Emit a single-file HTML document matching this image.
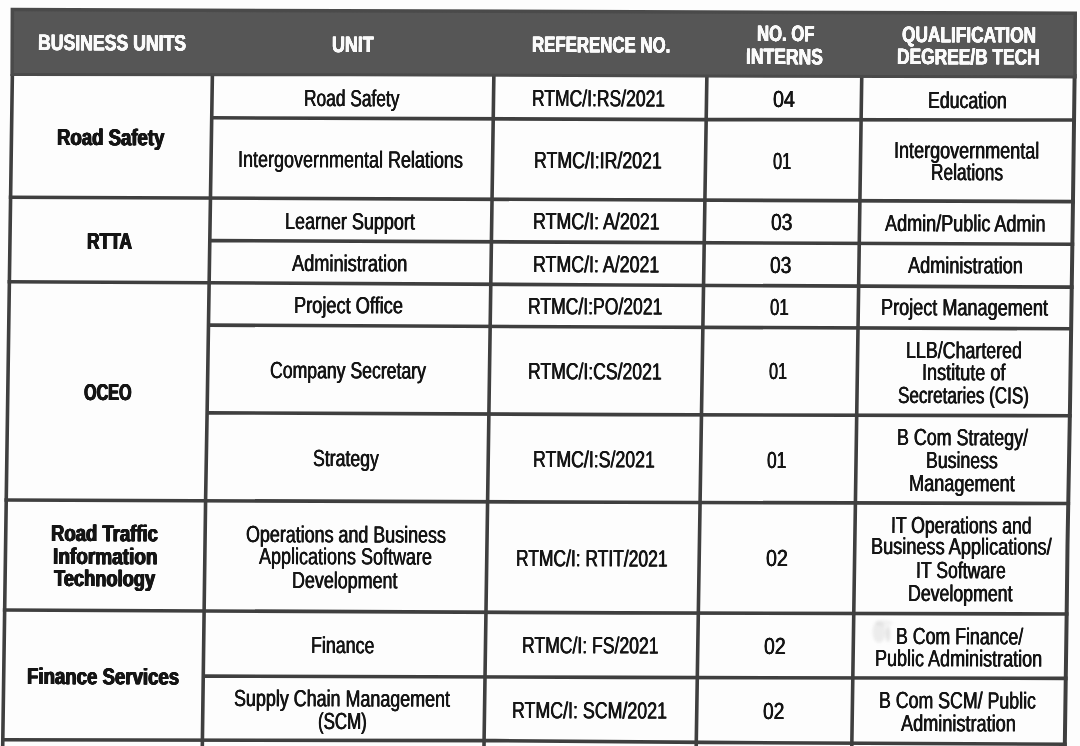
<!DOCTYPE html>
<html lang="en">
<head>
<meta charset="utf-8">
<title>Internship Table</title>
<style>
html,body{margin:0;padding:0;background:#fdfdfd;}
body{width:1080px;height:746px;overflow:hidden;position:relative;}
#page{position:absolute;left:0;top:0;width:1080px;height:746px;overflow:hidden;filter:blur(0.6px);}
svg{display:block;position:absolute;left:0;top:0;}
.t{position:absolute;display:block;white-space:nowrap;line-height:0;margin:0;padding:0;transform-origin:0 40px;font-family:"Liberation Sans",sans-serif;color:#151515;}
.t i{display:inline-block;width:0;height:40px;vertical-align:baseline;}
.b{font-weight:bold;}
.w{color:#fafafa;}
</style>
</head>
<body>
<div id="page">
<svg width="1080" height="746" viewBox="0 0 1080 746">
<rect width="1080" height="746" fill="#fdfdfd"/>
<g id="grid" stroke="#3f3f3f" stroke-width="3.60" stroke-linecap="butt" fill="none">
<polyline stroke-width="3.60" points="12.37,74.00 12.00,100.00 2.70,746.00 2.67,748.00"/>
<polyline stroke-width="3.60" points="212.40,74.00 207.20,407.00 205.60,500.00 203.40,665.00 202.30,748.00"/>
<polyline stroke-width="3.60" points="493.88,74.00 493.50,100.00 484.00,746.00 483.97,748.00"/>
<polyline stroke-width="3.60" points="706.91,74.00 706.50,100.00 696.20,746.00 696.17,748.00"/>
<polyline stroke-width="3.60" points="861.79,74.00 861.40,100.00 851.80,746.00 851.77,748.00"/>
<polyline stroke-width="4.00" points="1074.64,74.00 1074.30,100.00 1073.00,200.00 1070.00,407.00 1067.50,545.00 1066.70,612.00 1064.80,746.00 1064.77,748.00"/>
<polyline points="211.72,117.80 700.00,119.60 1075.87,120.00"/>
<polyline points="8.80,197.19 620.00,199.80 1074.84,201.62"/>
<polyline points="209.81,240.58 620.00,242.40 1074.22,244.22"/>
<polyline points="7.58,281.69 620.00,285.00 1073.62,287.12"/>
<polyline points="208.49,325.11 620.00,327.00 1073.00,328.81"/>
<polyline points="207.11,412.84 620.00,414.60 1071.71,415.80"/>
<polyline points="4.44,499.98 620.00,502.30 1070.12,503.50"/>
<polyline points="2.86,609.97 620.00,612.90 1068.52,614.00"/>
<polyline points="203.26,676.10 620.00,677.40 1067.60,678.39"/>
<polyline points="0.99,739.80 495.00,740.60 705.00,742.40 865.00,743.20 1066.69,744.20"/>
</g>
<polygon fill="#4a4a4a" points="10.60,7.80 1077.00,11.50 1076.79,78.50 700.00,77.50 350.00,76.20 10.36,76.00"/>
<polygon fill="#565656" points="14.10,11.30 1073.50,15.00 1073.29,75.50 700.00,74.50 350.00,73.20 13.86,73.00"/>
<g id="smudge" fill="#8a8a8a" style="filter:blur(1.6px)">
<ellipse cx="879" cy="632" rx="6.5" ry="11" opacity="0.14"/>
<ellipse cx="888" cy="634" rx="2.2" ry="8" opacity="0.22"/>
<ellipse cx="884" cy="623" rx="9" ry="3" opacity="0.10"/>
</g>
</svg>
<div id="table">
<div class="t b w" style="left:37.94px;top:10.44px;font-size:22.32px;transform:rotate(0.20deg) scaleX(0.7909);text-shadow:0.38px 0 0 currentColor,-0.38px 0 0 currentColor,0.19px 0 0 currentColor,-0.19px 0 0 currentColor"><i></i>BUSINESS UNITS</div>
<div class="t b w" style="left:331.53px;top:11.63px;font-size:22.32px;transform:rotate(0.20deg) scaleX(0.8006);text-shadow:0.37px 0 0 currentColor,-0.37px 0 0 currentColor,0.19px 0 0 currentColor,-0.19px 0 0 currentColor"><i></i>UNIT</div>
<div class="t b w" style="left:531.99px;top:11.56px;font-size:22.32px;transform:rotate(0.20deg) scaleX(0.7538);text-shadow:0.40px 0 0 currentColor,-0.40px 0 0 currentColor,0.20px 0 0 currentColor,-0.20px 0 0 currentColor"><i></i>REFERENCE NO.</div>
<div class="t b w" style="left:756.60px;top:1.00px;font-size:22.32px;transform:rotate(0.20deg) scaleX(0.7468);text-shadow:0.40px 0 0 currentColor,-0.40px 0 0 currentColor,0.20px 0 0 currentColor,-0.20px 0 0 currentColor"><i></i>NO. OF</div>
<div class="t b w" style="left:745.75px;top:24.07px;font-size:22.32px;transform:rotate(0.20deg) scaleX(0.7850);text-shadow:0.38px 0 0 currentColor,-0.38px 0 0 currentColor,0.19px 0 0 currentColor,-0.19px 0 0 currentColor"><i></i>INTERNS</div>
<div class="t b w" style="left:902.11px;top:2.07px;font-size:22.32px;transform:rotate(0.20deg) scaleX(0.7742);text-shadow:0.39px 0 0 currentColor,-0.39px 0 0 currentColor,0.19px 0 0 currentColor,-0.19px 0 0 currentColor"><i></i>QUALIFICATION</div>
<div class="t b w" style="left:897.26px;top:24.05px;font-size:22.32px;transform:rotate(0.20deg) scaleX(0.7776);text-shadow:0.39px 0 0 currentColor,-0.39px 0 0 currentColor,0.19px 0 0 currentColor,-0.19px 0 0 currentColor"><i></i>DEGREE/B TECH</div>
<div class="t b" style="left:56.99px;top:104.81px;font-size:22.90px;transform:rotate(0.20deg) scaleX(0.8111);text-shadow:0.74px 0 0 currentColor,-0.74px 0 0 currentColor,0.37px 0 0 currentColor,-0.37px 0 0 currentColor"><i></i>Road Safety</div>
<div class="t b" style="left:87.36px;top:209.02px;font-size:22.90px;transform:rotate(0.20deg) scaleX(0.7587);text-shadow:0.79px 0 0 currentColor,-0.79px 0 0 currentColor,0.40px 0 0 currentColor,-0.40px 0 0 currentColor"><i></i>RTTA</div>
<div class="t b" style="left:83.65px;top:360.02px;font-size:22.90px;transform:rotate(0.20deg) scaleX(0.7052);text-shadow:0.85px 0 0 currentColor,-0.85px 0 0 currentColor,0.43px 0 0 currentColor,-0.43px 0 0 currentColor"><i></i>OCEO</div>
<div class="t b" style="left:51.19px;top:501.31px;font-size:22.90px;transform:rotate(0.20deg) scaleX(0.8078);text-shadow:0.74px 0 0 currentColor,-0.74px 0 0 currentColor,0.37px 0 0 currentColor,-0.37px 0 0 currentColor"><i></i>Road Traffic</div>
<div class="t b" style="left:52.96px;top:523.82px;font-size:22.90px;transform:rotate(0.20deg) scaleX(0.8305);text-shadow:0.72px 0 0 currentColor,-0.72px 0 0 currentColor,0.36px 0 0 currentColor,-0.36px 0 0 currentColor"><i></i>Information</div>
<div class="t b" style="left:54.22px;top:546.02px;font-size:22.90px;transform:rotate(0.20deg) scaleX(0.7974);text-shadow:0.75px 0 0 currentColor,-0.75px 0 0 currentColor,0.38px 0 0 currentColor,-0.38px 0 0 currentColor"><i></i>Technology</div>
<div class="t b" style="left:26.78px;top:643.94px;font-size:22.90px;transform:rotate(0.20deg) scaleX(0.8133);text-shadow:0.74px 0 0 currentColor,-0.74px 0 0 currentColor,0.37px 0 0 currentColor,-0.37px 0 0 currentColor"><i></i>Finance Services</div>
<div class="t" style="left:304.45px;top:66.03px;font-size:23.19px;transform:rotate(0.20deg) scaleX(0.7476);text-shadow:0.45px 0 0 currentColor,-0.45px 0 0 currentColor"><i></i>Road Safety</div>
<div class="t" style="left:238.22px;top:126.61px;font-size:23.19px;transform:rotate(0.20deg) scaleX(0.7757);text-shadow:0.44px 0 0 currentColor,-0.44px 0 0 currentColor"><i></i>Intergovernmental Relations</div>
<div class="t" style="left:285.10px;top:188.77px;font-size:23.19px;transform:rotate(0.20deg) scaleX(0.7746);text-shadow:0.44px 0 0 currentColor,-0.44px 0 0 currentColor"><i></i>Learner Support</div>
<div class="t" style="left:292.34px;top:230.80px;font-size:23.19px;transform:rotate(0.20deg) scaleX(0.7850);text-shadow:0.43px 0 0 currentColor,-0.43px 0 0 currentColor"><i></i>Administration</div>
<div class="t" style="left:293.88px;top:272.81px;font-size:23.19px;transform:rotate(0.20deg) scaleX(0.7850);text-shadow:0.43px 0 0 currentColor,-0.43px 0 0 currentColor"><i></i>Project Office</div>
<div class="t" style="left:269.96px;top:338.23px;font-size:23.19px;transform:rotate(0.20deg) scaleX(0.7608);text-shadow:0.45px 0 0 currentColor,-0.45px 0 0 currentColor"><i></i>Company Secretary</div>
<div class="t" style="left:313.33px;top:425.59px;font-size:23.19px;transform:rotate(0.20deg) scaleX(0.7622);text-shadow:0.45px 0 0 currentColor,-0.45px 0 0 currentColor"><i></i>Strategy</div>
<div class="t" style="left:245.82px;top:502.15px;font-size:23.19px;transform:rotate(0.20deg) scaleX(0.7714);text-shadow:0.44px 0 0 currentColor,-0.44px 0 0 currentColor"><i></i>Operations and Business</div>
<div class="t" style="left:259.34px;top:524.40px;font-size:23.19px;transform:rotate(0.20deg) scaleX(0.7757);text-shadow:0.44px 0 0 currentColor,-0.44px 0 0 currentColor"><i></i>Applications Software</div>
<div class="t" style="left:291.71px;top:547.82px;font-size:23.19px;transform:rotate(0.20deg) scaleX(0.7715);text-shadow:0.44px 0 0 currentColor,-0.44px 0 0 currentColor"><i></i>Development</div>
<div class="t" style="left:311.41px;top:612.89px;font-size:23.19px;transform:rotate(0.20deg) scaleX(0.7683);text-shadow:0.44px 0 0 currentColor,-0.44px 0 0 currentColor"><i></i>Finance</div>
<div class="t" style="left:234.12px;top:666.32px;font-size:23.19px;transform:rotate(0.20deg) scaleX(0.7721);text-shadow:0.44px 0 0 currentColor,-0.44px 0 0 currentColor"><i></i>Supply Chain Management</div>
<div class="t" style="left:318.03px;top:688.62px;font-size:23.19px;transform:rotate(0.20deg) scaleX(0.7275);text-shadow:0.47px 0 0 currentColor,-0.47px 0 0 currentColor"><i></i>(SCM)</div>
<div class="t" style="left:531.94px;top:66.07px;font-size:23.19px;transform:rotate(0.20deg) scaleX(0.7553);text-shadow:0.45px 0 0 currentColor,-0.45px 0 0 currentColor"><i></i>RTMC/I:RS/2021</div>
<div class="t" style="left:533.92px;top:128.48px;font-size:23.19px;transform:rotate(0.20deg) scaleX(0.7645);text-shadow:0.44px 0 0 currentColor,-0.44px 0 0 currentColor"><i></i>RTMC/I:IR/2021</div>
<div class="t" style="left:533.21px;top:189.48px;font-size:23.19px;transform:rotate(0.20deg) scaleX(0.7693);text-shadow:0.44px 0 0 currentColor,-0.44px 0 0 currentColor"><i></i>RTMC/I: A/2021</div>
<div class="t" style="left:533.32px;top:231.98px;font-size:23.19px;transform:rotate(0.20deg) scaleX(0.7674);text-shadow:0.44px 0 0 currentColor,-0.44px 0 0 currentColor"><i></i>RTMC/I: A/2021</div>
<div class="t" style="left:528.34px;top:273.97px;font-size:23.19px;transform:rotate(0.20deg) scaleX(0.7571);text-shadow:0.45px 0 0 currentColor,-0.45px 0 0 currentColor"><i></i>RTMC/I:PO/2021</div>
<div class="t" style="left:528.03px;top:339.07px;font-size:23.19px;transform:rotate(0.20deg) scaleX(0.7587);text-shadow:0.45px 0 0 currentColor,-0.45px 0 0 currentColor"><i></i>RTMC/I:CS/2021</div>
<div class="t" style="left:532.82px;top:426.79px;font-size:23.19px;transform:rotate(0.20deg) scaleX(0.7645);text-shadow:0.44px 0 0 currentColor,-0.44px 0 0 currentColor"><i></i>RTMC/I:S/2021</div>
<div class="t" style="left:515.64px;top:525.74px;font-size:23.19px;transform:rotate(0.20deg) scaleX(0.7521);text-shadow:0.45px 0 0 currentColor,-0.45px 0 0 currentColor"><i></i>RTMC/I: RTIT/2021</div>
<div class="t" style="left:522.03px;top:613.46px;font-size:23.19px;transform:rotate(0.20deg) scaleX(0.7586);text-shadow:0.45px 0 0 currentColor,-0.45px 0 0 currentColor"><i></i>RTMC/I: FS/2021</div>
<div class="t" style="left:511.72px;top:678.43px;font-size:23.19px;transform:rotate(0.20deg) scaleX(0.7676);text-shadow:0.44px 0 0 currentColor,-0.44px 0 0 currentColor"><i></i>RTMC/I: SCM/2021</div>
<div class="t" style="left:772.75px;top:67.46px;font-size:23.19px;transform:rotate(0.20deg) scaleX(0.8501);text-shadow:0.40px 0 0 currentColor,-0.40px 0 0 currentColor"><i></i>04</div>
<div class="t" style="left:773.15px;top:128.67px;font-size:23.19px;transform:rotate(0.20deg) scaleX(0.7042);text-shadow:0.48px 0 0 currentColor,-0.48px 0 0 currentColor"><i></i>01</div>
<div class="t" style="left:770.96px;top:190.46px;font-size:23.19px;transform:rotate(0.20deg) scaleX(0.8293);text-shadow:0.41px 0 0 currentColor,-0.41px 0 0 currentColor"><i></i>03</div>
<div class="t" style="left:770.27px;top:232.66px;font-size:23.19px;transform:rotate(0.20deg) scaleX(0.8252);text-shadow:0.41px 0 0 currentColor,-0.41px 0 0 currentColor"><i></i>03</div>
<div class="t" style="left:769.84px;top:274.67px;font-size:23.19px;transform:rotate(0.20deg) scaleX(0.7208);text-shadow:0.47px 0 0 currentColor,-0.47px 0 0 currentColor"><i></i>01</div>
<div class="t" style="left:768.55px;top:339.47px;font-size:23.19px;transform:rotate(0.20deg) scaleX(0.7000);text-shadow:0.49px 0 0 currentColor,-0.49px 0 0 currentColor"><i></i>01</div>
<div class="t" style="left:767.32px;top:427.67px;font-size:23.19px;transform:rotate(0.20deg) scaleX(0.7499);text-shadow:0.45px 0 0 currentColor,-0.45px 0 0 currentColor"><i></i>01</div>
<div class="t" style="left:765.75px;top:525.96px;font-size:23.19px;transform:rotate(0.20deg) scaleX(0.8457);text-shadow:0.40px 0 0 currentColor,-0.40px 0 0 currentColor"><i></i>02</div>
<div class="t" style="left:763.96px;top:614.46px;font-size:23.19px;transform:rotate(0.20deg) scaleX(0.8373);text-shadow:0.41px 0 0 currentColor,-0.41px 0 0 currentColor"><i></i>02</div>
<div class="t" style="left:763.47px;top:678.66px;font-size:23.19px;transform:rotate(0.20deg) scaleX(0.8249);text-shadow:0.41px 0 0 currentColor,-0.41px 0 0 currentColor"><i></i>02</div>
<div class="t" style="left:928.12px;top:67.87px;font-size:23.19px;transform:rotate(0.20deg) scaleX(0.7633);text-shadow:0.45px 0 0 currentColor,-0.45px 0 0 currentColor"><i></i>Education</div>
<div class="t" style="left:894.22px;top:118.45px;font-size:23.19px;transform:rotate(0.20deg) scaleX(0.7772);text-shadow:0.44px 0 0 currentColor,-0.44px 0 0 currentColor"><i></i>Intergovernmental</div>
<div class="t" style="left:930.66px;top:140.38px;font-size:23.19px;transform:rotate(0.20deg) scaleX(0.7450);text-shadow:0.46px 0 0 currentColor,-0.46px 0 0 currentColor"><i></i>Relations</div>
<div class="t" style="left:885.34px;top:190.72px;font-size:23.19px;transform:rotate(0.20deg) scaleX(0.7784);text-shadow:0.44px 0 0 currentColor,-0.44px 0 0 currentColor"><i></i>Admin/Public Admin</div>
<div class="t" style="left:908.34px;top:233.30px;font-size:23.19px;transform:rotate(0.20deg) scaleX(0.7816);text-shadow:0.44px 0 0 currentColor,-0.44px 0 0 currentColor"><i></i>Administration</div>
<div class="t" style="left:880.89px;top:274.91px;font-size:23.19px;transform:rotate(0.20deg) scaleX(0.7801);text-shadow:0.44px 0 0 currentColor,-0.44px 0 0 currentColor"><i></i>Project Management</div>
<div class="t" style="left:905.91px;top:317.80px;font-size:23.19px;transform:rotate(0.20deg) scaleX(0.7688);text-shadow:0.44px 0 0 currentColor,-0.44px 0 0 currentColor"><i></i>LLB/Chartered</div>
<div class="t" style="left:922.21px;top:340.46px;font-size:23.19px;transform:rotate(0.20deg) scaleX(0.7796);text-shadow:0.44px 0 0 currentColor,-0.44px 0 0 currentColor"><i></i>Institute of</div>
<div class="t" style="left:897.66px;top:363.47px;font-size:23.19px;transform:rotate(0.20deg) scaleX(0.7361);text-shadow:0.46px 0 0 currentColor,-0.46px 0 0 currentColor"><i></i>Secretaries (CIS)</div>
<div class="t" style="left:896.91px;top:405.47px;font-size:23.19px;transform:rotate(0.20deg) scaleX(0.7701);text-shadow:0.44px 0 0 currentColor,-0.44px 0 0 currentColor"><i></i>B Com Strategy/</div>
<div class="t" style="left:925.93px;top:428.08px;font-size:23.19px;transform:rotate(0.20deg) scaleX(0.7627);text-shadow:0.45px 0 0 currentColor,-0.45px 0 0 currentColor"><i></i>Business</div>
<div class="t" style="left:908.89px;top:450.52px;font-size:23.19px;transform:rotate(0.20deg) scaleX(0.7811);text-shadow:0.44px 0 0 currentColor,-0.44px 0 0 currentColor"><i></i>Management</div>
<div class="t" style="left:890.96px;top:492.96px;font-size:23.19px;transform:rotate(0.20deg) scaleX(0.7590);text-shadow:0.45px 0 0 currentColor,-0.45px 0 0 currentColor"><i></i>IT Operations and</div>
<div class="t" style="left:871.29px;top:514.18px;font-size:23.19px;transform:rotate(0.20deg) scaleX(0.7828);text-shadow:0.43px 0 0 currentColor,-0.43px 0 0 currentColor"><i></i>Business Applications/</div>
<div class="t" style="left:915.95px;top:537.85px;font-size:23.19px;transform:rotate(0.20deg) scaleX(0.7603);text-shadow:0.45px 0 0 currentColor,-0.45px 0 0 currentColor"><i></i>IT Software</div>
<div class="t" style="left:907.62px;top:561.02px;font-size:23.19px;transform:rotate(0.20deg) scaleX(0.7648);text-shadow:0.44px 0 0 currentColor,-0.44px 0 0 currentColor"><i></i>Development</div>
<div class="t" style="left:895.72px;top:603.68px;font-size:23.19px;transform:rotate(0.20deg) scaleX(0.7651);text-shadow:0.44px 0 0 currentColor,-0.44px 0 0 currentColor"><i></i>B Com Finance/</div>
<div class="t" style="left:874.90px;top:625.71px;font-size:23.19px;transform:rotate(0.20deg) scaleX(0.7762);text-shadow:0.44px 0 0 currentColor,-0.44px 0 0 currentColor"><i></i>Public Administration</div>
<div class="t" style="left:879.42px;top:668.03px;font-size:23.19px;transform:rotate(0.20deg) scaleX(0.7657);text-shadow:0.44px 0 0 currentColor,-0.44px 0 0 currentColor"><i></i>B Com SCM/ Public</div>
<div class="t" style="left:900.64px;top:690.80px;font-size:23.19px;transform:rotate(0.20deg) scaleX(0.7816);text-shadow:0.44px 0 0 currentColor,-0.44px 0 0 currentColor"><i></i>Administration</div>
</div>
</div>
</body>
</html>
